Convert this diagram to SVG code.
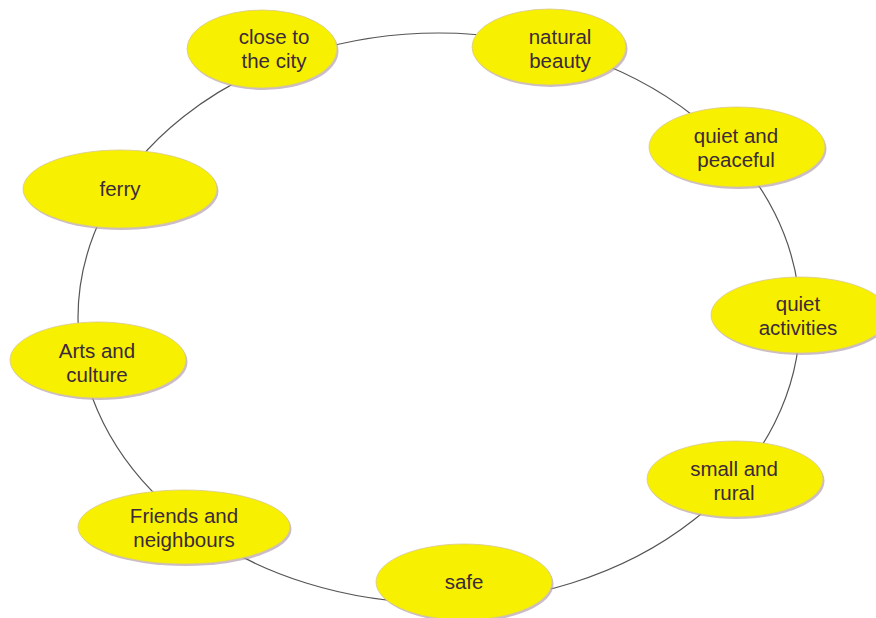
<svg xmlns="http://www.w3.org/2000/svg" width="876" height="618" viewBox="0 0 876 618">
<style>
.n ellipse.s{fill:#b49fb0;opacity:0.7}
.n ellipse.f{fill:#f7f000;stroke:#d8c890;stroke-width:0.8}
.n text{font-family:"Liberation Sans",Arial,sans-serif;font-size:20.5px;fill:#3b2a3a;text-anchor:middle}
.c{fill:none;stroke:#555;stroke-width:1.2}
</style>
<rect width="876" height="618" fill="#ffffff"/>
<g id="connectors">
<ellipse class="c" cx="439" cy="318" rx="361" ry="285"/>
</g>
<g id="close" class="n"><ellipse class="s" cx="263.5" cy="51" rx="75" ry="39"/><ellipse class="f" cx="262" cy="49" rx="75" ry="39"/><text x="274" y="43.5">close to</text><text x="274" y="67.5">the city</text></g>
<g id="natural" class="n"><ellipse class="s" cx="550.5" cy="49" rx="77" ry="38"/><ellipse class="f" cx="549" cy="47" rx="77" ry="38"/><text x="560" y="43.5">natural</text><text x="560" y="67.5">beauty</text></g>
<g id="quietpeaceful" class="n"><ellipse class="s" cx="738.5" cy="149" rx="88" ry="40"/><ellipse class="f" cx="737" cy="147" rx="88" ry="40"/><text x="736" y="142.5">quiet and</text><text x="736" y="166.5">peaceful</text></g>
<g id="ferry" class="n"><ellipse class="s" cx="121.5" cy="191" rx="97" ry="39"/><ellipse class="f" cx="120" cy="189" rx="97" ry="39"/><text x="120" y="196">ferry</text></g>
<g id="quietactivities" class="n"><ellipse class="s" cx="801.5" cy="317" rx="89" ry="38"/><ellipse class="f" cx="800" cy="315" rx="89" ry="38"/><text x="798" y="310.5">quiet</text><text x="798" y="334.5">activities</text></g>
<g id="arts" class="n"><ellipse class="s" cx="99.5" cy="362" rx="88" ry="38"/><ellipse class="f" cx="98" cy="360" rx="88" ry="38"/><text x="97" y="357.5">Arts and</text><text x="97" y="381.5">culture</text></g>
<g id="small" class="n"><ellipse class="s" cx="736.5" cy="481" rx="88" ry="38"/><ellipse class="f" cx="735" cy="479" rx="88" ry="38"/><text x="734" y="475.5">small and</text><text x="734" y="499.5">rural</text></g>
<g id="friends" class="n"><ellipse class="s" cx="185.5" cy="529" rx="106" ry="37"/><ellipse class="f" cx="184" cy="527" rx="106" ry="37"/><text x="184" y="522.5">Friends and</text><text x="184" y="546.5">neighbours</text></g>
<g id="safe" class="n"><ellipse class="s" cx="465.5" cy="584" rx="88" ry="38"/><ellipse class="f" cx="464" cy="582" rx="88" ry="38"/><text x="464" y="589">safe</text></g>
</svg>
